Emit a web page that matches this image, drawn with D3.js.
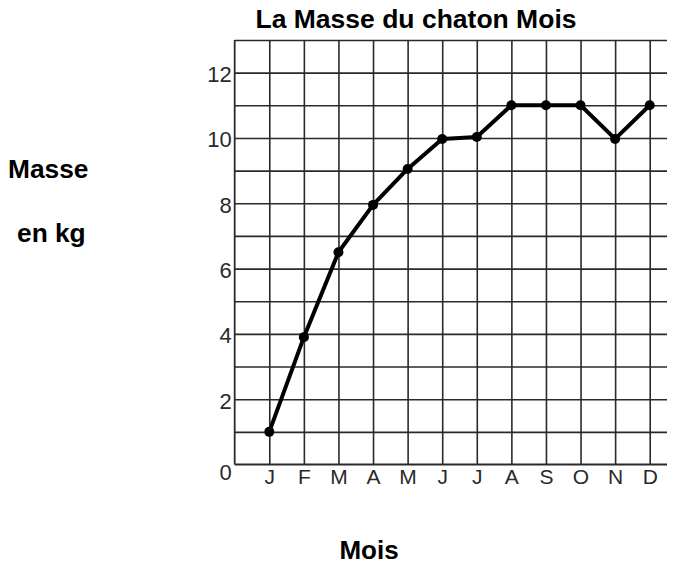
<!DOCTYPE html>
<html>
<head>
<meta charset="utf-8">
<script src="https://cdn.jsdelivr.net/npm/d3@7"></script>
<style>
  html, body { margin: 0; padding: 0; background: #fff; }
  svg { display: block; }
</style>
</head>
<body>
<svg id="chart" width="678" height="564"></svg>
<script>
const months = ["J","F","M","A","M","J","J","A","S","O","N","D"];
const masses = [1, 3.9, 6.5, 7.95, 9.05, 9.97, 10.03, 11, 11, 11, 9.97, 11];
const yTicks = [0, 2, 4, 6, 8, 10, 12];
const yGrid = [1, 2, 3, 4, 5, 6, 7, 8, 9, 10, 11, 12, 13];
const title = "La Masse du chaton Mois";
const yLabelLines = ["Masse", "en kg"];
const xLabel = "Mois";

const svg = d3.select("#chart");
const x = d3.scaleLinear().domain([0, 12.5]).range([234.7, 667]);
const y = d3.scaleLinear().domain([0, 13]).range([464.5, 40]);
const idx = months.map((m, i) => i + 1);

// horizontal grid
const hg = svg.append("g").attr("transform", `translate(${x(0)},0)`)
  .call(d3.axisLeft(y).tickValues(yGrid).tickSize(-(x(12.5) - x(0))).tickFormat(""));
hg.select(".domain").remove();
hg.selectAll(".tick line").attr("stroke", "#2a2a2a").attr("stroke-width", 1.6);

// vertical grid
const vg = svg.append("g").attr("transform", `translate(0,${y(0)})`)
  .call(d3.axisBottom(x).tickValues(idx).tickSize(-(y(0) - y(13))).tickFormat(""));
vg.select(".domain").remove();
vg.selectAll(".tick line").attr("stroke", "#2a2a2a").attr("stroke-width", 1.6);

// axes lines
svg.append("line").attr("x1", x(0)).attr("x2", x(0)).attr("y1", y(13)).attr("y2", y(0))
  .attr("stroke", "#2a2a2a").attr("stroke-width", 1.8);
svg.append("line").attr("x1", x(0)).attr("x2", x(12.5)).attr("y1", y(0)).attr("y2", y(0))
  .attr("stroke", "#2a2a2a").attr("stroke-width", 1.8);

// y tick labels
const ya = svg.append("g").attr("transform", `translate(${x(0) - 2},0)`)
  .call(d3.axisLeft(y).tickValues(yTicks).tickSize(0).tickPadding(1));
ya.select(".domain").remove();
ya.selectAll("text")
  .attr("font-family", "Liberation Sans, Arial, sans-serif")
  .attr("font-size", 22).attr("fill", "#2a2a2a")
  .attr("dy", d => d === 0 ? "0.68em" : "0.4em");

// x tick labels
const xa = svg.append("g").attr("transform", `translate(0,${y(0)})`)
  .call(d3.axisBottom(x).tickValues(idx).tickSize(0).tickPadding(5)
    .tickFormat(d => months[d - 1]));
xa.select(".domain").remove();
xa.selectAll("text")
  .attr("font-family", "Liberation Sans, Arial, sans-serif")
  .attr("font-size", 21).attr("fill", "#2a2a2a");

// line
const line = d3.line().x((d, i) => x(i + 1)).y(d => y(d));
svg.append("path").datum(masses).attr("d", line)
  .attr("fill", "none").attr("stroke", "#000").attr("stroke-width", 4)
  .attr("stroke-linejoin", "round");
svg.append("g").selectAll("circle").data(masses).join("circle")
  .attr("cx", (d, i) => x(i + 1)).attr("cy", d => y(d)).attr("r", 5).attr("fill", "#000");

// texts
const bold = sel => sel.attr("font-family", "Liberation Sans, Arial, sans-serif")
  .attr("font-weight", "bold").attr("fill", "#000");
svg.append("text").attr("x", 416).attr("y", 28).attr("text-anchor", "middle")
  .attr("font-size", 26.5).text(title).call(bold);
svg.append("text").attr("x", 8).attr("y", 178).attr("font-size", 26.3)
  .text(yLabelLines[0]).call(bold);
svg.append("text").attr("x", 17).attr("y", 242).attr("font-size", 26.3)
  .text(yLabelLines[1]).call(bold);
svg.append("text").attr("x", 369).attr("y", 559).attr("text-anchor", "middle")
  .attr("font-size", 26).text(xLabel).call(bold);
</script>
</body>
</html>
